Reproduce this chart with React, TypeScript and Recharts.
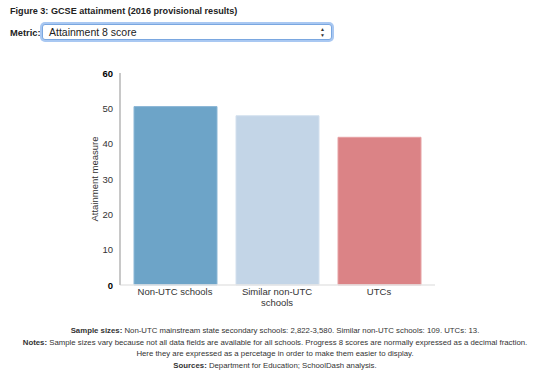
import React from 'react';
import { BarChart, Bar, XAxis, YAxis, Cell, Label } from 'recharts';

// Figure 3: GCSE attainment, Attainment 8 score (2016 provisional)
const categories = ['Non-UTC schools', 'Similar non-UTC schools', 'UTCs'];
const attainment8 = [50.5, 47.9, 41.8];
const yTicks = [0, 10, 20, 30, 40, 50, 60];

const data = categories.map((name, i) => ({ name, value: attainment8[i] }));

const fills = ['#6da4c8', '#c3d5e7', '#db8386'];
const strokes = ['#8bb7d6', '#d3e0ee', '#e6a2a4'];

const font = '"Liberation Sans", Arial, Helvetica, sans-serif';

const wrap = (s: string, max: number) => {
  const words = s.split(' ');
  const lines: string[] = [];
  let cur = '';
  words.forEach((w) => {
    if (cur && (cur + ' ' + w).length > max) {
      lines.push(cur);
      cur = w;
    } else {
      cur = cur ? cur + ' ' + w : w;
    }
  });
  if (cur) lines.push(cur);
  return lines;
};

const XTick = (props: any) => {
  const { x, y, payload } = props;
  const lines = wrap(payload.value, 20);
  return (
    <text x={x} y={y} textAnchor="middle" fontSize={9.5} fill="#333" fontFamily={font}>
      {lines.map((l, i) => (
        <tspan key={i} x={x} dy={i === 0 ? 8 : 11}>
          {l}
        </tspan>
      ))}
    </text>
  );
};

const YTick = (props: any) => {
  const { x, y, payload } = props;
  const edge = payload.value === 0 || payload.value === 60;
  return (
    <text x={x} y={y} dy={3.5} textAnchor="end" fontSize={9.5} fill={edge ? '#000' : '#333'}
      fontWeight={edge ? 'bold' : 'normal'} fontFamily={font}>
      {payload.value}
    </text>
  );
};

const App: React.FC = () => {
  return (
    <div style={{ position: 'absolute', left: 0, top: 0, width: 550, height: 386, fontFamily: font, color: '#222', background: '#fff' }}>
      <div style={{ position: 'absolute', left: 10, top: 6, fontSize: 9.1, fontWeight: 'bold' }}>
        Figure 3: GCSE attainment (2016 provisional results)
      </div>
      <div style={{ position: 'absolute', left: 10, top: 28, fontSize: 9.3, fontWeight: 'bold' }}>Metric:</div>
      <div
        style={{
          position: 'absolute', left: 42, top: 24, width: 290, height: 16,
          border: '1px solid #7aa7e0', borderRadius: 3, boxShadow: '0 0 0 2px #a9c8f2',
          background: '#fff', fontSize: 10.5, lineHeight: '15px', boxSizing: 'border-box',
        }}
      >
        <span style={{ position: 'absolute', left: 6, top: 0 }}>Attainment 8 score</span>
        <span style={{ position: 'absolute', right: 6, top: 1, fontSize: 5, lineHeight: '6px', color: '#333' }}>
          ▲<br />▼
        </span>
      </div>

      <div style={{ position: 'absolute', left: 0, top: 50 }}>
        <BarChart width={550} height={270} data={data} margin={{ top: 23, right: 115, bottom: 5, left: 0 }}>
          <XAxis
            dataKey="name"
            interval={0}
            height={30}
            padding={{ left: 4, right: 5 }}
            axisLine={{ stroke: '#e6e6e6', strokeWidth: 1.5 }}
            tickLine={false}
            tickSize={0}
            tick={<XTick />}
          />
          <YAxis
            width={120}
            domain={[0, 60]}
            ticks={yTicks}
            interval={0}
            axisLine={{ stroke: '#c8c8c8', strokeWidth: 2 }}
            tickLine={false}
            tickSize={0}
            tickMargin={7}
            tick={<YTick />}
          >
            <Label value="Attainment measure" angle={-90} position="center" dx={35}
              style={{ fontSize: 9.5, fill: '#333', fontFamily: font }} />
          </YAxis>
          <Bar dataKey="value" barSize={83} isAnimationActive={false}>
            {data.map((d, i) => (
              <Cell key={d.name} fill={fills[i]} stroke={strokes[i]} strokeWidth={1} />
            ))}
          </Bar>
        </BarChart>
      </div>

      <div style={{ position: 'absolute', left: 0, top: 325, width: 550, textAlign: 'center', fontSize: 7.8, lineHeight: '11.5px', color: '#333' }}>
        <div><b>Sample sizes:</b> Non-UTC mainstream state secondary schools: 2,822-3,580. Similar non-UTC schools: 109. UTCs: 13.</div>
        <div><b>Notes:</b> Sample sizes vary because not all data fields are available for all schools. Progress 8 scores are normally expressed as a decimal fraction.</div>
        <div>Here they are expressed as a percetage in order to make them easier to display.</div>
        <div><b>Sources:</b> Department for Education; SchoolDash analysis.</div>
      </div>
    </div>
  );
};

export default App;
